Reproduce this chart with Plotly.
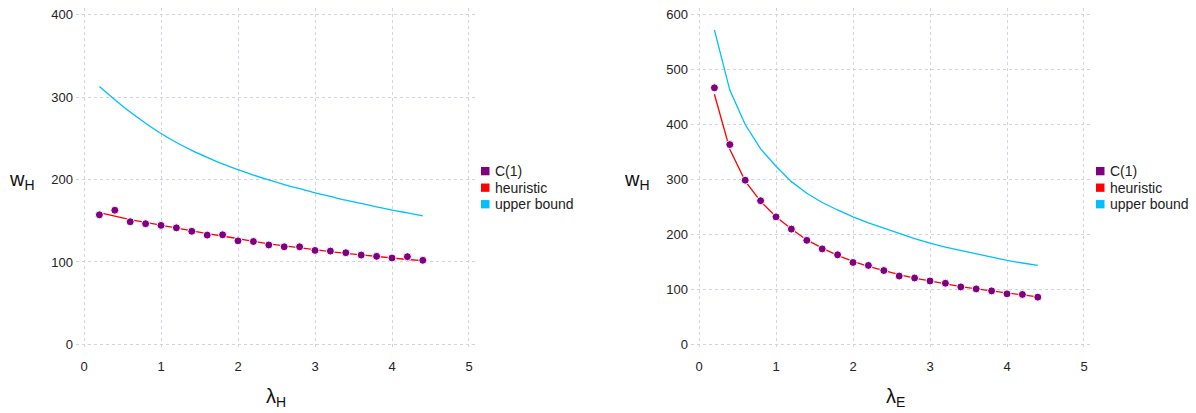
import plotly.graph_objects as go

lam = [0.2, 0.4, 0.6, 0.8, 1.0, 1.2, 1.4, 1.6, 1.8, 2.0, 2.2, 2.4, 2.6, 2.8, 3.0,
       3.2, 3.4, 3.6, 3.8, 4.0, 4.2, 4.4]

# Left panel (lambda_H)
left_c1 = [157.2, 162.8, 148.8, 146.4, 144.4, 141.4, 137.2, 132.6, 133.0, 125.6, 124.8,
           120.6, 118.4, 118.4, 114.0, 113.2, 111.2, 108.4, 106.8, 104.8, 106.4, 102.0]
left_heur = [160.0, 155.5, 151.5, 148.0, 144.5, 141.0, 137.5, 134.5, 131.5, 128.0, 125.0,
             122.0, 119.5, 117.0, 114.5, 112.5, 110.5, 108.5, 106.5, 104.5, 103.0, 101.5]
left_upper = [313.0, 297.0, 282.0, 268.5, 256.0, 245.0, 235.5, 227.0, 219.0, 212.0, 205.5,
              199.5, 194.0, 189.0, 184.0, 179.5, 175.0, 171.0, 167.0, 163.0, 159.5, 156.0]

# Right panel (lambda_E)
right_c1 = [466.7, 363.4, 298.6, 261.3, 231.9, 209.7, 189.2, 173.7, 162.9, 149.0, 143.6,
            134.3, 124.3, 120.7, 115.3, 111.2, 104.5, 100.9, 97.3, 91.9, 90.8, 85.9]
right_heur = [455.0, 355.0, 297.0, 260.0, 232.0, 210.0, 190.0, 175.0, 162.0, 151.0, 142.0,
              134.0, 127.0, 120.5, 115.0, 110.0, 105.0, 101.0, 97.0, 93.5, 90.0, 86.5]
right_upper = [572.0, 462.5, 400.0, 355.6, 324.0, 296.0, 275.0, 258.0, 244.5, 232.0, 221.0,
               211.0, 202.0, 192.5, 184.0, 177.0, 171.0, 165.0, 158.5, 152.6, 148.0, 143.6]

x_ticks = [0, 1, 2, 3, 4, 5]
left_y_ticks = [0, 100, 200, 300, 400]
right_y_ticks = [0, 100, 200, 300, 400, 500, 600]
legend_names = ["C(1)", "heuristic", "upper bound"]

PURPLE = "#800080"
RED = "#ff0000"
CYAN = "#00bfff"
legend_colors = [PURPLE, RED, CYAN]
FONT = "Liberation Sans, Arial, Helvetica, sans-serif"
GRID = "#d2d2e4"
W, H = 1196, 413

fig = go.Figure()


def add_panel(xa, ya, c1, heur, upper, smooth):
    fig.add_trace(go.Scatter(x=lam, y=upper, mode="lines", name="upper bound",
                             line=dict(color=CYAN, width=1.3,
                                       shape="spline" if smooth else "linear"),
                             xaxis=xa, yaxis=ya, showlegend=False))
    fig.add_trace(go.Scatter(x=lam, y=heur, mode="lines", name="heuristic",
                             line=dict(color=RED, width=1.3),
                             xaxis=xa, yaxis=ya, showlegend=False))
    fig.add_trace(go.Scatter(x=lam, y=c1, mode="markers", name="C(1)",
                             marker=dict(color=PURPLE, size=8,
                                         line=dict(color="white", width=1)),
                             xaxis=xa, yaxis=ya, showlegend=False))


add_panel("x", "y", left_c1, left_heur, left_upper, True)
add_panel("x2", "y2", right_c1, right_heur, right_upper, False)

axis_common = dict(showgrid=True, gridcolor=GRID, griddash="dot", gridwidth=1,
                   zeroline=False, showline=False, ticks="",
                   tickfont=dict(family=FONT, size=13, color="#222222"))

ytop = 1 - 7 / H
ybot = 1 - 351 / H

fig.update_layout(
    width=W, height=H,
    margin=dict(l=0, r=0, t=0, b=0),
    paper_bgcolor="white", plot_bgcolor="white",
    showlegend=False,
    xaxis=dict(domain=[76 / W, 475 / W], range=[-0.104, 5.078], tickvals=x_ticks,
               anchor="y", ticklabelstandoff=8, **axis_common),
    yaxis=dict(domain=[ybot, ytop], range=[-5.2, 408.4], tickvals=left_y_ticks,
               anchor="x", ticklabelstandoff=2, **axis_common),
    xaxis2=dict(domain=[691 / W, 1090 / W], range=[-0.104, 5.078], tickvals=x_ticks,
                anchor="y2", ticklabelstandoff=8, **axis_common),
    yaxis2=dict(domain=[ybot, ytop], range=[-7.7, 612], tickvals=right_y_ticks,
                anchor="x2", ticklabelstandoff=2, **axis_common),
)

# Legends (one per panel): coloured squares with labels
for sq_x, txt_x in [(481, 493), (1096, 1108)]:
    for i, (name, col) in enumerate(zip(legend_names, legend_colors)):
        cy = 171.8 + i * 16.7
        fig.add_shape(type="rect", xref="paper", yref="paper",
                      x0=sq_x / W, x1=(sq_x + 8.5) / W,
                      y0=1 - (cy + 4.2) / H, y1=1 - (cy - 4.2) / H,
                      fillcolor=col, line=dict(width=0))
        fig.add_annotation(text=name, x=txt_x / W, y=1 - cy / H,
                           xref="paper", yref="paper", showarrow=False,
                           xanchor="left", yanchor="middle",
                           font=dict(family=FONT, size=14, color="#222222"))

title_font = dict(family=FONT, size=20, color="#111111")
for txt, x, y in [("w<sub>H</sub>", 22, 181), ("λ<sub>H</sub>", 276, 400),
                  ("w<sub>H</sub>", 637, 181), ("λ<sub>E</sub>", 896, 400)]:
    fig.add_annotation(text=txt, x=x / W, y=1 - y / H, xref="paper", yref="paper",
                       showarrow=False, font=title_font, xanchor="center",
                       yanchor="middle")

fig.write_html("out.html", config={"displayModeBar": False})

# remove the browser's default page margin so the figure sits at the window origin
with open("out.html", "r", encoding="utf-8") as f:
    html = f.read()
html = html.replace("<head>", "<head><style>html,body{margin:0;padding:0;overflow:hidden;}</style>", 1)
with open("out.html", "w", encoding="utf-8") as f:
    f.write(html)
